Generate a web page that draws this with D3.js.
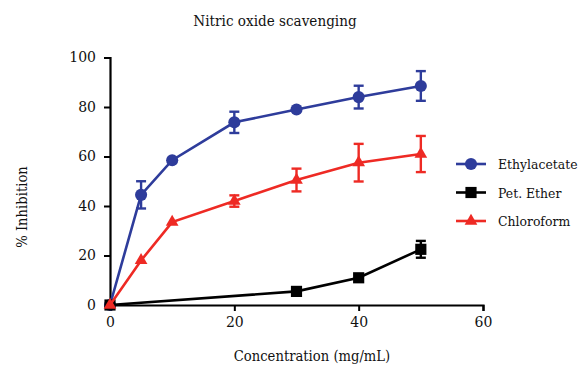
<!DOCTYPE html>
<html>
<head>
<meta charset="utf-8">
<script src="https://cdn.jsdelivr.net/npm/d3@7"></script>
<style>
  body { margin: 0; background: #fff; }
  text { font-family: "DejaVu Serif", "Liberation Serif", serif; fill: #111; }
</style>
</head>
<body>
<svg id="chart" width="587" height="366"></svg>
<script>
// chart data
const conc = [0, 5, 10, 20, 30, 40, 50]
const ethylMean = [0, 44.5, 58.5, 73.8, 79, 84, 88.5]
const ethylErr = [0, 5.5, 0, 4.3, 0, 4.6, 6]
const chloroMean = [0, 18, 33.5, 42, 50.5, 57.5, 61]
const chloroErr = [0, 0, 0, 2.3, 4.6, 7.6, 7.3]
const etherConc = [0, 30, 40, 50]
const etherMean = [0, 5.5, 11, 22.5]
const etherErr = [0, 0, 0, 3.4]
const xTicks = [0, 20, 40, 60]
const yTicks = [0, 20, 40, 60, 80, 100]

const series = [
  { name: 'Ethylacetate', color: '#2e3c9b', shape: d3.symbolCircle, size: 115, x: conc, y: ethylMean, e: ethylErr },
  { name: 'Pet. Ether', color: '#000000', shape: d3.symbolSquare, size: 125, x: etherConc, y: etherMean, e: etherErr },
  { name: 'Chloroform', color: '#ee2a24', shape: d3.symbolTriangle, size: 70, x: conc, y: chloroMean, e: chloroErr }
]

const serif = '"DejaVu Serif", "Liberation Serif", serif'
const svg = d3.select('#chart')
const x = d3.scaleLinear().domain([0, 60]).range([110, 483])
const y = d3.scaleLinear().domain([0, 100]).range([305, 57.5])

// squeeze a text horizontally a bit, the original face is narrower
function squeeze (sel, k) {
  sel.each(function () {
    const w = this.getComputedTextLength()
    d3.select(this).attr('textLength', w * k).attr('lengthAdjust', 'spacingAndGlyphs')
  })
}

// axes
const xAxis = svg.append('g')
  .attr('transform', `translate(0,${y(0)})`)
  .call(d3.axisBottom(x).tickValues(xTicks).tickSize(6).tickPadding(6))
const yAxis = svg.append('g')
  .attr('transform', `translate(${x(0)},0)`)
  .call(d3.axisLeft(y).tickValues(yTicks).tickSize(6).tickPadding(8))

;[xAxis, yAxis].forEach(ax => {
  ax.attr('font-family', serif).attr('font-size', 14)
  ax.select('.domain').attr('stroke', '#000').attr('stroke-width', 2.2)
  ax.selectAll('.tick line').attr('stroke', '#000').attr('stroke-width', 2)
  ax.selectAll('.tick text').attr('fill', '#111')
})

// series
const line = d3.line()
series.forEach(s => {
  const pts = s.x.map((v, i) => ({ cx: v, cy: s.y[i], err: s.e[i] }))
  const g = svg.append('g')
  g.append('path')
    .attr('d', line(pts.map(p => [x(p.cx), y(p.cy)])))
    .attr('fill', 'none')
    .attr('stroke', s.color)
    .attr('stroke-width', 2.6)
  // error bars
  pts.filter(p => p.err > 0).forEach(p => {
    const px = x(p.cx)
    const top = y(p.cy + p.err)
    const bot = y(p.cy - p.err)
    g.append('line').attr('x1', px).attr('x2', px).attr('y1', top).attr('y2', bot)
      .attr('stroke', s.color).attr('stroke-width', 2.4)
    ;[top, bot].forEach(yy => {
      g.append('line').attr('x1', px - 5).attr('x2', px + 5).attr('y1', yy).attr('y2', yy)
        .attr('stroke', s.color).attr('stroke-width', 2.4)
    })
  })
  g.selectAll('path.mark')
    .data(pts)
    .enter()
    .append('path')
    .attr('class', 'mark')
    .attr('transform', p => `translate(${x(p.cx)},${y(p.cy)})`)
    .attr('d', d3.symbol().type(s.shape).size(s.size))
    .attr('fill', s.color)
})

// legend
const legend = svg.append('g')
series.forEach((s, i) => {
  const ly = 164 + i * 28.5
  legend.append('line').attr('x1', 456).attr('x2', 486).attr('y1', ly).attr('y2', ly)
    .attr('stroke', s.color).attr('stroke-width', 2.6)
  legend.append('path')
    .attr('transform', `translate(471,${ly})`)
    .attr('d', d3.symbol().type(s.shape).size(s.size))
    .attr('fill', s.color)
  legend.append('text')
    .attr('x', 498).attr('y', ly + 5)
    .attr('font-size', 13.5)
    .text(s.name)
    .call(squeeze, 0.92)
})

// titles
svg.append('text')
  .attr('x', 275).attr('y', 26)
  .attr('text-anchor', 'middle')
  .attr('font-size', 14)
  .text('Nitric oxide scavenging')
  .call(squeeze, 0.97)

svg.append('text')
  .attr('x', 312).attr('y', 361)
  .attr('text-anchor', 'middle')
  .attr('font-size', 14)
  .text('Concentration (mg/mL)')
  .call(squeeze, 0.94)

svg.append('text')
  .attr('transform', 'translate(27,207) rotate(-90)')
  .attr('text-anchor', 'middle')
  .attr('font-size', 14)
  .text('% Inhibition')
  .call(squeeze, 0.94)
</script>
</body>
</html>
